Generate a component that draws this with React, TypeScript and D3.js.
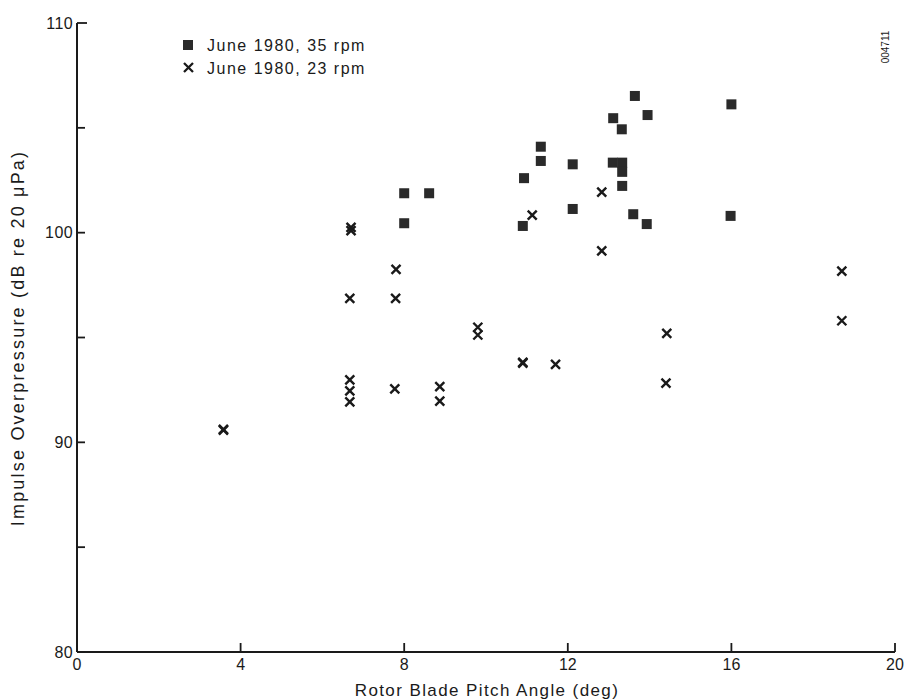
import React from "react";
import * as d3 from "d3";

const rpm35X = [8.0, 8.61, 8.0, 11.34, 11.34, 10.93, 12.12, 13.11, 13.32, 13.64, 13.95, 13.1, 13.33, 13.33, 13.33, 12.12, 13.6, 13.93, 10.9, 16.0, 15.98];
const rpm35Y = [101.88, 101.88, 100.45, 104.1, 103.42, 102.6, 103.26, 105.46, 104.93, 106.52, 105.61, 103.34, 103.34, 102.9, 102.23, 101.13, 100.88, 100.41, 100.32, 106.12, 100.8];

const rpm23X = [3.58, 3.58, 6.7, 6.7, 6.67, 6.67, 6.67, 6.67, 7.8, 7.79, 7.77, 8.87, 8.87, 9.8, 9.8, 10.9, 10.9, 11.13, 11.7, 12.83, 12.83, 14.42, 14.4, 18.7, 18.7];
const rpm23Y = [90.62, 90.58, 100.25, 100.1, 96.87, 92.98, 92.45, 91.93, 98.25, 96.87, 92.55, 92.66, 91.97, 95.49, 95.12, 93.82, 93.78, 100.84, 93.72, 101.93, 99.13, 95.2, 92.82, 98.17, 95.8];

const xTicks = [0, 4, 8, 12, 16, 20];
const yTicks = [80, 85, 90, 95, 100, 105, 110];
const yLabeled = [80, 90, 100, 110];

const legendLabels = ["June 1980, 35 rpm", "June 1980, 23 rpm"];
const xTitle = "Rotor Blade Pitch Angle (deg)";
const yTitle = "Impulse Overpressure (dB re 20 \u03bcPa)";
const sideCode = "004711";

const W = 906;
const H = 700;
const font = "'Liberation Sans', Arial, Helvetica, sans-serif";

export default function App() {
  const x = d3.scaleLinear().domain([0, 20]).range([77, 895]);
  const y = d3.scaleLinear().domain([80, 110]).range([652, 23]);
  const sq = 10;
  const cr = 4.5;
  const ink = "#1a1a1a";

  const crossPath = (cx: number, cy: number) =>
    `M${cx - cr},${cy - cr}L${cx + cr},${cy + cr}M${cx - cr},${cy + cr}L${cx + cr},${cy - cr}`;

  return (
    <svg
      width={W}
      height={H}
      style={{ position: "absolute", left: 0, top: 0, background: "#fff" }}
      fontFamily={font}
    >
      <rect x={0} y={0} width={W} height={H} fill="#fff" />
      {/* axes */}
      <line x1={x(0)} x2={x(0)} y1={y(110)} y2={y(80)} stroke={ink} strokeWidth={2} />
      <line x1={x(0)} x2={x(20)} y1={y(80)} y2={y(80)} stroke={ink} strokeWidth={2} />
      {yTicks.map((t) => (
        <line key={"yt" + t} x1={x(0)} x2={x(0) + (t === 110 ? 10 : 8)} y1={y(t)} y2={y(t)} stroke={ink} strokeWidth={1.8} />
      ))}
      {xTicks.filter((t) => t > 0).map((t) => (
        <line key={"xt" + t} x1={x(t)} x2={x(t)} y1={y(80)} y2={y(80) - 9} stroke={ink} strokeWidth={1.8} />
      ))}
      {yLabeled.map((t) => (
        <text key={"yl" + t} x={x(0) - 4} y={y(t)} dy="0.35em" textAnchor="end" fontSize={16} letterSpacing={0.4} fill={ink}>
          {t}
        </text>
      ))}
      {xTicks.map((t) => (
        <text key={"xl" + t} x={x(t)} y={y(80) + 18} textAnchor="middle" fontSize={16} fill={ink}>
          {t}
        </text>
      ))}
      <text x={487} y={696} textAnchor="middle" fontSize={17} letterSpacing={1.4} fill={ink}>
        {xTitle}
      </text>
      <text
        transform={`translate(24,338) rotate(-90)`}
        textAnchor="middle"
        fontSize={18}
        letterSpacing={2.2}
        fill={ink}
      >
        {yTitle}
      </text>
      <text transform={`translate(889,47) rotate(-90)`} textAnchor="middle" fontSize={10} fill={ink}>
        {sideCode}
      </text>

      {/* legend */}
      <rect x={183} y={40} width={sq} height={sq} fill="#2a2a2a" />
      <path d={`M${184},${63}L${193},${72}M${184},${72}L${193},${63}`} stroke={ink} strokeWidth={2.3} />
      {legendLabels.map((l, i) => (
        <text key={l} x={207} y={45 + i * 23} dy="0.35em" fontSize={16} letterSpacing={1.5} fill={ink}>
          {l}
        </text>
      ))}

      {/* data */}
      {rpm35X.map((v, i) => (
        <rect key={"s" + i} x={x(v) - sq / 2} y={y(rpm35Y[i]) - sq / 2} width={sq} height={sq} fill="#2a2a2a" />
      ))}
      {rpm23X.map((v, i) => (
        <path key={"c" + i} d={crossPath(x(v), y(rpm23Y[i]))} stroke={ink} strokeWidth={2.4} fill="none" />
      ))}
    </svg>
  );
}
